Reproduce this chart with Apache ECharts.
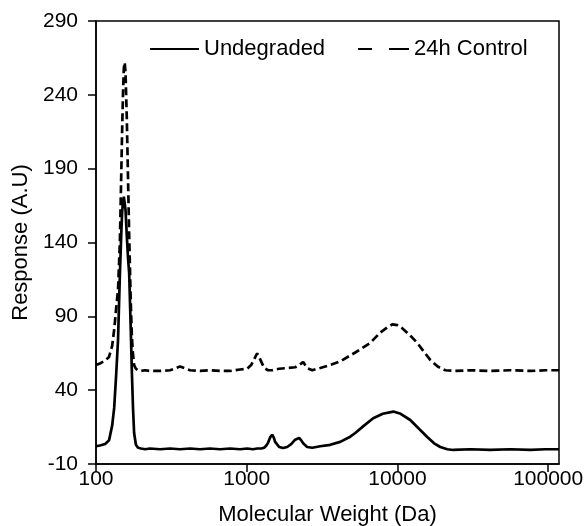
<!DOCTYPE html>
<html>
<head>
<meta charset="utf-8">
<script src="https://cdn.jsdelivr.net/npm/echarts@6/dist/echarts.min.js"></script>
<style>html,body{margin:0;padding:0;background:#fff;}#c{width:588px;height:526px;}</style>
</head>
<body>
<div id="c"></div>
<script>
const xTicks = [100, 1000, 10000, 100000];

const mwUndegraded = [100, 106, 115, 122, 128, 132, 136, 140, 144, 147, 149, 151, 153, 155, 157, 160, 163, 166, 170, 173, 176, 179, 184, 190, 199, 212, 228, 266, 310, 361, 421, 490, 571, 666, 776, 904, 1006, 1100, 1173, 1250, 1305, 1350, 1387, 1430, 1475, 1510, 1544, 1641, 1745, 1855, 1972, 2096, 2228, 2300, 2369, 2518, 2719, 3073, 3580, 4171, 4860, 5248, 6000, 6906, 8000, 9379, 10500, 12160, 14000, 15770, 17500, 19240, 21400, 23470, 30440, 41330, 56100, 76180, 95800, 118000];
const respUndegraded = [2, 2.5, 3.5, 6, 16, 28, 50, 74, 118, 145, 160, 168, 171, 170, 162, 145, 130, 119, 82, 52, 28, 11, 3, 1, 0.5, 0, 0.5, 0, 0.5, 0, 0.5, 0, 0.5, 0, 0.5, 0, 0.5, 0, 0.5, 0.5, 1, 2.5, 4.5, 8, 9.8, 8, 5, 1.5, 0.8, 1.5, 3.5, 6.5, 7.6, 6, 4, 1.5, 1, 2, 3, 5, 8.5, 11, 16, 21, 24, 25.5, 24, 19.8, 13.5, 8.3, 4, 1.5, 0, -0.5, 0, -0.5, 0, -0.5, 0, 0];

const mwControl = [100, 106, 115, 122, 128, 132, 136, 140, 144, 147, 149, 151, 153, 155, 157, 160, 163, 166, 170, 173, 176, 179, 184, 190, 199, 212, 228, 266, 310, 361, 421, 490, 571, 666, 776, 904, 1006, 1070, 1120, 1173, 1227, 1305, 1387, 1475, 1641, 1855, 2096, 2228, 2369, 2518, 2719, 3073, 3580, 4171, 5248, 6600, 7690, 8556, 9237, 10000, 10760, 12160, 13540, 15000, 16510, 18500, 20760, 24200, 30440, 41330, 56100, 76180, 95800, 118000];
const respControl = [57, 58, 60, 62.5, 70, 81, 95, 108, 140, 185, 215, 240, 258, 262, 255, 225, 185, 145, 100, 76, 64, 57, 54.5, 53.5, 53, 53.5, 53, 53, 53.5, 56, 53.5, 53, 53.5, 53, 53, 54, 54.5, 57, 61, 65, 61, 55, 53.5, 53.5, 54.5, 55, 55.5, 57, 59, 55, 53.5, 55, 57, 59.5, 65.5, 72, 79, 82.5, 84.5, 84, 82, 77, 72, 66, 60.5, 56, 53.5, 53, 53.5, 53, 53.5, 53, 53.5, 53.5];

const pairs = (xs, ys) => xs.map((x, i) => [x, ys[i]]);
const FONT = 'Liberation Sans, Arial, Helvetica, sans-serif';
const hiddenSymbol = {color: 'rgba(0,0,0,0)', borderColor: 'rgba(0,0,0,0)', borderWidth: 0, opacity: 0};

const chart = echarts.init(document.getElementById('c'), null, {renderer: 'canvas'});
chart.setOption({
  animation: false,
  backgroundColor: '#fff',
  textStyle: {fontFamily: FONT, color: '#000'},
  grid: {left: 96, right: 29, top: 21, bottom: 62, show: true, borderColor: '#000', borderWidth: 1.5, containLabel: false, outerBoundsMode: 'none'},
  legend: [
    {data: [{name: 'Undegraded', itemStyle: hiddenSymbol}], left: 144, top: 33, itemWidth: 49, itemHeight: 14, itemGap: 5,
     textStyle: {fontFamily: FONT, fontSize: 22, color: '#000'}},
    {data: [{name: '24h Control', itemStyle: hiddenSymbol, lineStyle: {type: [14, 17, 20, 10]}}], left: 352, top: 33, itemWidth: 51, itemHeight: 14, itemGap: 4,
     textStyle: {fontFamily: FONT, fontSize: 22, color: '#000'}}
  ],
  xAxis: {
    type: 'log', logBase: 10, min: 100, max: 118000,
    name: 'Molecular Weight (Da)', nameLocation: 'middle', nameGap: 40,
    nameTextStyle: {fontFamily: FONT, fontSize: 22, color: '#000'},
    axisLine: {onZero: false, lineStyle: {color: '#000', width: 1.5}},
    axisTick: {show: true, inside: false, length: 8, lineStyle: {color: '#000', width: 1.5}, customValues: xTicks},
    minorTick: {show: false},
    axisLabel: {fontFamily: FONT, fontSize: 21, color: '#000', margin: 5, customValues: xTicks,
      formatter: v => String(Math.round(v))},
    splitLine: {show: false}
  },
  yAxis: {
    type: 'value', min: -10, max: 290, interval: 50,
    name: 'Response (A.U)', nameLocation: 'middle', nameGap: 64,
    nameTextStyle: {fontFamily: FONT, fontSize: 22, color: '#000'},
    axisLine: {show: true, onZero: false, lineStyle: {color: '#000', width: 1.5}},
    axisTick: {show: true, inside: false, length: 8, lineStyle: {color: '#000', width: 1.5}},
    axisLabel: {fontFamily: FONT, fontSize: 21, color: '#000', margin: 18},
    splitLine: {show: false}
  },
  series: [
    {name: 'Undegraded', type: 'line', symbol: 'none', smooth: false,
     lineStyle: {color: '#000', width: 2.7, type: 'solid'}, itemStyle: {color: '#000'},
     data: pairs(mwUndegraded, respUndegraded)},
    {name: '24h Control', type: 'line', symbol: 'none', smooth: false,
     lineStyle: {color: '#000', width: 2.7, type: [8, 4]}, itemStyle: {color: '#000'},
     data: pairs(mwControl, respControl)}
  ]
});
</script>
</body>
</html>
